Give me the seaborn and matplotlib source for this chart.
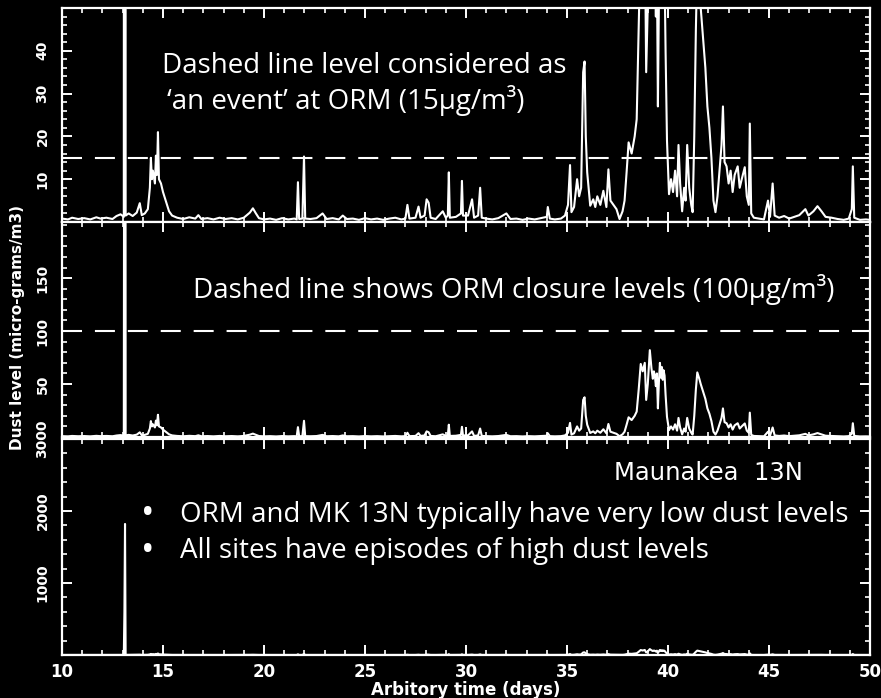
import matplotlib
matplotlib.use("Agg")
import matplotlib.pyplot as plt
import numpy as np
import pandas as pd
import seaborn as sns
from matplotlib.ticker import MultipleLocator, FixedLocator

# Maunakea 13N dust record (micro-grams/m3) against arbitrary time (days)
day = [
    10.0, 10.3, 10.5, 10.8, 11.1, 11.4, 11.7, 11.9, 12.2, 12.5, 12.7, 12.9, 13.06,
    13.09, 13.12, 13.15, 13.3, 13.5, 13.7, 13.85, 13.95, 14.1, 14.25,
    14.35, 14.4, 14.45, 14.5, 14.6, 14.65, 14.7, 14.75, 14.8, 14.9, 15.0, 15.1,
    15.2, 15.3, 15.45, 15.7, 16.0, 16.3, 16.6, 16.75, 16.9, 17.2, 17.5, 17.8,
    18.1, 18.4, 18.7, 19.0, 19.3, 19.45, 19.6, 19.75, 20.0, 20.3, 20.6, 20.9,
    21.2, 21.5, 21.62, 21.68, 21.74, 21.9, 21.98, 22.04, 22.3, 22.6, 22.9, 23.1,
    23.4, 23.7, 23.9, 24.1, 24.4, 24.7, 25.0, 25.3, 25.6, 25.9, 26.2, 26.5,
    26.8, 27.0, 27.1, 27.2, 27.5, 27.65, 27.75, 27.95, 28.05, 28.15, 28.25,
    28.5, 28.85, 29.0, 29.1, 29.15, 29.2, 29.5, 29.75, 29.8, 29.85, 30.1, 30.3,
    30.4, 30.6, 30.7, 30.78, 31.0, 31.3, 31.6, 32.0, 32.2, 32.5, 32.8, 33.1,
    33.4, 33.7, 34.0, 34.05, 34.15, 34.4, 34.7, 34.9, 35.05, 35.15, 35.22,
    35.35, 35.5, 35.6, 35.7, 35.8, 35.87, 35.93, 36.0, 36.15, 36.3, 36.4, 36.5,
    36.65, 36.8, 36.95, 37.05, 37.15, 37.3, 37.45, 37.6, 37.75, 37.85, 37.95,
    38.05, 38.2, 38.35, 38.45, 38.55, 38.65, 38.75, 38.85, 38.92, 39.0, 39.1,
    39.18, 39.25, 39.3, 39.35, 39.4, 39.45, 39.5, 39.55, 39.6, 39.65, 39.7,
    39.74, 39.78, 39.83, 39.88, 39.95, 40.05,
    40.15, 40.25, 40.35, 40.45, 40.52, 40.6, 40.7, 40.8, 40.87, 40.95, 41.05,
    41.15, 41.22, 41.3, 41.38, 41.45, 41.55, 41.62, 41.72, 41.85, 41.95, 42.05,
    42.15, 42.25, 42.35, 42.45, 42.55, 42.65, 42.72, 42.8, 42.9, 43.0, 43.1,
    43.2, 43.3, 43.45, 43.55, 43.65, 43.8, 43.9, 44.0, 44.05, 44.12, 44.25,
    44.5, 44.75, 44.95, 45.05, 45.18, 45.28, 45.5, 45.75, 46.0, 46.25, 46.5,
    46.8, 46.95, 47.2, 47.4, 47.6, 47.8, 48.1, 48.4, 48.7, 48.95, 49.1, 49.15,
    49.22, 49.5, 49.8, 50.0,
]
dust = [
    0.8, 0.6, 1.0, 0.7, 0.9, 0.6, 1.1, 0.8, 1.0, 0.7, 1.4, 1.8, 1.2,
    600, 1820, 1.5, 2.0, 1.4, 2.2, 4.4, 1.6, 2.0, 3.0,
    8.0, 15.0, 10.0, 12.0, 9.0, 15.5, 11.0, 21.0, 10.0, 9.0, 7.0, 5.5,
    4.0, 2.5, 1.5, 1.0, 0.7, 1.1, 0.8, 1.6, 0.7, 0.9, 0.6, 1.0,
    0.7, 0.9, 0.6, 1.0, 2.2, 3.2, 2.0, 0.9, 0.6, 0.8, 0.5, 0.9,
    0.6, 0.8, 0.6, 9.3, 0.7, 0.8, 15.3, 0.8, 0.7, 0.9, 2.0, 0.7,
    0.9, 0.6, 1.5, 0.7, 0.8, 0.5, 0.9, 0.6, 0.8, 0.5, 0.8, 1.0,
    0.6, 0.8, 4.0, 0.8, 1.0, 3.6, 1.0, 1.5, 5.3, 4.5, 1.0,
    0.7, 2.5, 1.0, 1.5, 11.6, 1.0, 1.2, 2.0, 9.6, 1.5, 1.5, 5.3,
    1.0, 1.5, 8.0, 1.0, 0.8, 0.6, 0.9, 2.0, 0.7, 0.8, 0.5, 0.8,
    0.6, 0.9, 1.2, 3.5, 0.8, 0.6, 0.8, 1.5, 4.0, 13.3, 2.3,
    3.5, 10.0, 6.0, 8.0, 35.0, 37.5, 20.0, 11.6, 3.8, 5.3, 3.5, 6.0,
    4.0, 7.3, 3.5, 12.3, 5.0, 4.0, 3.0, 0.7, 2.5, 5.0, 11.6,
    18.6, 16.0, 20.0, 24.0, 45.0, 69.0, 62.0, 70.0, 35.0, 50.0, 82.0,
    65.0, 55.0, 62.0, 58.0, 48.0, 60.0, 27.0, 52.0, 70.0, 56.0, 66.0,
    54.0, 63.0, 58.0, 40.0, 19.0, 6.5,
    10.0, 7.0, 12.0, 6.0, 18.0, 9.0, 2.5, 8.0, 5.0, 18.0, 8.0,
    4.0, 2.3, 20.0, 45.0, 61.0, 55.0, 50.0, 44.0, 36.0, 27.0, 22.0,
    15.0, 5.0, 2.3, 6.0, 12.0, 18.0, 27.0, 14.0, 13.0, 9.0, 12.0,
    7.0, 11.0, 13.0, 8.0, 10.0, 12.8, 6.0, 4.0, 23.0, 2.0, 1.0,
    0.8, 0.6, 5.0, 1.2, 9.0, 1.5, 1.0, 1.4, 0.8, 1.2, 1.6,
    3.0, 1.5, 2.5, 3.7, 2.5, 1.2, 1.0, 0.7, 0.5, 0.8, 3.0, 13.0,
    1.0, 0.5, 0.6, 0.5,
]

x_limits = (10, 50)
x_major = [10, 15, 20, 25, 30, 35, 40, 45, 50]
panel_ylims = [(0, 50), (0, 203), (0, 3000)]
panel_yticks = [[10, 20, 30, 40], [50, 100, 150], [1000, 2000, 3000]]
panel_yminor = [2, 10, 200]
event_level = 15       # ORM 'event' threshold
closure_level = 100    # ORM closure threshold

df = pd.DataFrame({"day": day, "dust": dust})

sns.set_theme(style="ticks", rc={
    "figure.facecolor": "black",
    "axes.facecolor": "black",
    "savefig.facecolor": "black",
    "axes.edgecolor": "white",
    "axes.linewidth": 1.6,
    "xtick.color": "white",
    "ytick.color": "white",
    "text.color": "white",
    "axes.labelcolor": "white",
    "xtick.direction": "in",
    "ytick.direction": "in",
    "xtick.top": True,
    "ytick.right": True,
    "xtick.major.size": 7,
    "ytick.major.size": 7,
    "xtick.minor.size": 3.6,
    "ytick.minor.size": 3.6,
    "xtick.major.width": 1.4,
    "ytick.major.width": 1.4,
    "xtick.minor.width": 1.2,
    "ytick.minor.width": 1.2,
    "axes.grid": False,
})
plt.rcParams["font.family"] = ["DejaVu Sans"]

W, H = 881, 698
fig = plt.figure(figsize=(W / 100, H / 100), dpi=100)

# panel boxes in pixels: (top, bottom)
left_px, right_px = 62, 870
boxes = [(8, 222), (222, 437), (439, 655)]
axes = []
for top, bot in boxes:
    ax = fig.add_axes([left_px / W, 1 - bot / H, (right_px - left_px) / W, (bot - top) / H])
    axes.append(ax)

for i, ax in enumerate(axes):
    sns.lineplot(data=df, x="day", y="dust", ax=ax, color="white", lw=1.5,
                 estimator=None, sort=False, legend=False)
    ax.set_xlim(*x_limits)
    ax.set_ylim(*panel_ylims[i])
    ax.xaxis.set_major_locator(FixedLocator(x_major))
    ax.xaxis.set_minor_locator(MultipleLocator(1))
    ax.yaxis.set_major_locator(FixedLocator(panel_yticks[i]))
    ax.yaxis.set_minor_locator(MultipleLocator(panel_yminor[i]))
    ax.set_xlabel("")
    ax.set_ylabel("")
    ax.tick_params(which="both", top=True, right=True)
    ax.tick_params(axis="y", which="major", labelsize=10, pad=9, labelrotation=90)
    for lbl in ax.get_yticklabels():
        lbl.set_va("center")
        lbl.set_fontweight("bold")
    if i < 2:
        ax.tick_params(axis="x", labelbottom=False)
    else:
        ax.tick_params(axis="x", which="major", labelsize=12, pad=6)
        for lbl in ax.get_xticklabels():
            lbl.set_fontweight("bold")
        ax.set_xlabel("Arbitory time (days)", fontsize=12, fontweight="bold", labelpad=0)

# threshold lines
axes[0].axhline(event_level, color="white", lw=1.5, dashes=(9.6, 6.2))
axes[1].axhline(closure_level, color="white", lw=1.5, dashes=(9.6, 6.2))

fig.text(18 / W, 1 - 328 / H, "Dust level (micro-grams/m3)", rotation=90,
         ha="center", va="center", fontsize=11, fontweight="bold")

note_font = ["Open Sans", "DejaVu Sans"]
note_size = 20

axes[0].text(0.1238, 0.696, "Dashed line level considered as", transform=axes[0].transAxes,
             ha="left", va="baseline", fontsize=note_size, family=note_font)
axes[0].text(0.130, 0.526, "\u2018an event\u2019 at ORM (15\u00b5g/m\u00b3)", transform=axes[0].transAxes,
             ha="left", va="baseline", fontsize=note_size, family=note_font)
axes[1].text(0.162, 0.645, "Dashed line shows ORM closure levels (100\u00b5g/m\u00b3)",
             transform=axes[1].transAxes, ha="left", va="baseline",
             fontsize=note_size, family=note_font)

axes[2].text(0.7995, 0.810, "Maunakea  13N", transform=axes[2].transAxes,
             ha="center", va="baseline", fontsize=17.5)

bullets = ["ORM and MK 13N typically have very low dust levels",
           "All sites have episodes of high dust levels"]
for yb, line in zip([0.617, 0.449], bullets):
    axes[2].text(0.1064, yb - 0.012, "\u2022", transform=axes[2].transAxes, ha="center",
                 va="baseline", fontsize=26, family=note_font)
    axes[2].text(0.146, yb, line, transform=axes[2].transAxes, ha="left",
                 va="baseline", fontsize=note_size, family=note_font)

fig.savefig("out.png", dpi=100, facecolor="black")
